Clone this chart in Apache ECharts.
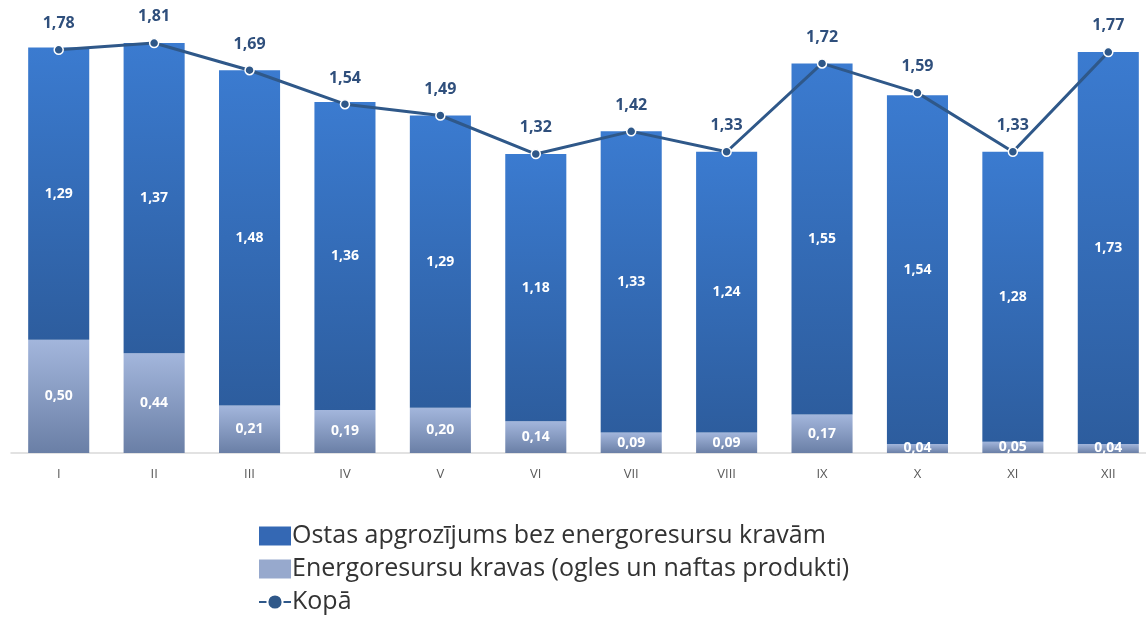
<!DOCTYPE html>
<html>
<head>
<meta charset="utf-8">
<script src="https://cdn.jsdelivr.net/npm/echarts@6/dist/echarts.min.js"></script>
<style>
  html, body { margin: 0; padding: 0; background: #fff; }
  #chart { width: 1146px; height: 617px; }
</style>
</head>
<body>
<div id="chart"></div>
<script>
const months = ['I', 'II', 'III', 'IV', 'V', 'VI', 'VII', 'VIII', 'IX', 'X', 'XI', 'XII']
const bezEnergo = [1.29, 1.37, 1.48, 1.36, 1.29, 1.18, 1.33, 1.24, 1.55, 1.54, 1.28, 1.73]
const energo = [0.50, 0.44, 0.21, 0.19, 0.20, 0.14, 0.09, 0.09, 0.17, 0.04, 0.05, 0.04]
const kopa = [1.78, 1.81, 1.69, 1.54, 1.49, 1.32, 1.42, 1.33, 1.72, 1.59, 1.33, 1.77]

const names = [
  'Ostas apgrozījums bez energoresursu kravām',
  'Energoresursu kravas (ogles un naftas produkti)',
  'Kopā'
]

const fmt = ({ value }) => value.toFixed(2).replace('.', ',')
const grad = (a, b) => ({
  type: 'linear', x: 0, y: 0, x2: 0, y2: 1,
  colorStops: [{ offset: 0, color: a }, { offset: 1, color: b }]
})

const chart = echarts.init(document.getElementById('chart'))
chart.setOption({
  animation: false,
  textStyle: { fontFamily: 'Open Sans' },
  grid: { left: 11, width: 1145, top: 0, bottom: 164, outerBoundsMode: 'none', containLabel: false },
  legend: {
    orient: 'vertical',
    left: 258,
    top: 521,
    padding: 0,
    itemWidth: 32,
    itemHeight: 19,
    itemGap: 3,
    textStyle: { fontSize: 25, lineHeight: 30, color: '#333', padding: [0, 0, 0, -4] },
    data: names.map((n, i) => i < 2
      ? { name: n, icon: 'rect', itemStyle: { color: i === 0 ? '#3468b4' : '#97a9cd', borderWidth: 0 } }
      : { name: n })
  },
  xAxis: {
    type: 'category',
    data: months,
    axisLine: { lineStyle: { color: '#d9d9d9', width: 1.5 } },
    axisTick: { show: false },
    axisLabel: { color: '#595959', fontSize: 13, margin: 15 }
  },
  yAxis: {
    type: 'value',
    min: 0,
    max: 2,
    show: false,
    splitLine: { show: false }
  },
  series: [
    {
      name: names[1],
      type: 'bar',
      stack: 'total',
      barWidth: '64%',
      data: energo,
      itemStyle: { color: grad('#a3b6dc', '#6a7fa6') },
      label: { show: true, position: 'inside', color: '#fff', fontWeight: 'bold', fontSize: 14, formatter: fmt }
    },
    {
      name: names[0],
      type: 'bar',
      stack: 'total',
      data: bezEnergo,
      itemStyle: { color: grad('#3b7bd0', '#2d5d9e') },
      label: { show: true, position: 'inside', color: '#fff', fontWeight: 'bold', fontSize: 14, formatter: fmt }
    },
    {
      name: names[2],
      type: 'line',
      data: kopa,
      symbol: 'circle',
      symbolSize: 9,
      lineStyle: { color: '#2f5889', width: 3 },
      itemStyle: { color: '#2f5889', borderColor: '#fff', borderWidth: 1.5 },
      label: { show: true, position: 'top', distance: 13, color: '#2f4f7c', fontWeight: 'bold', fontSize: 16, formatter: fmt },
      z: 5
    }
  ]
})
</script>
</body>
</html>
